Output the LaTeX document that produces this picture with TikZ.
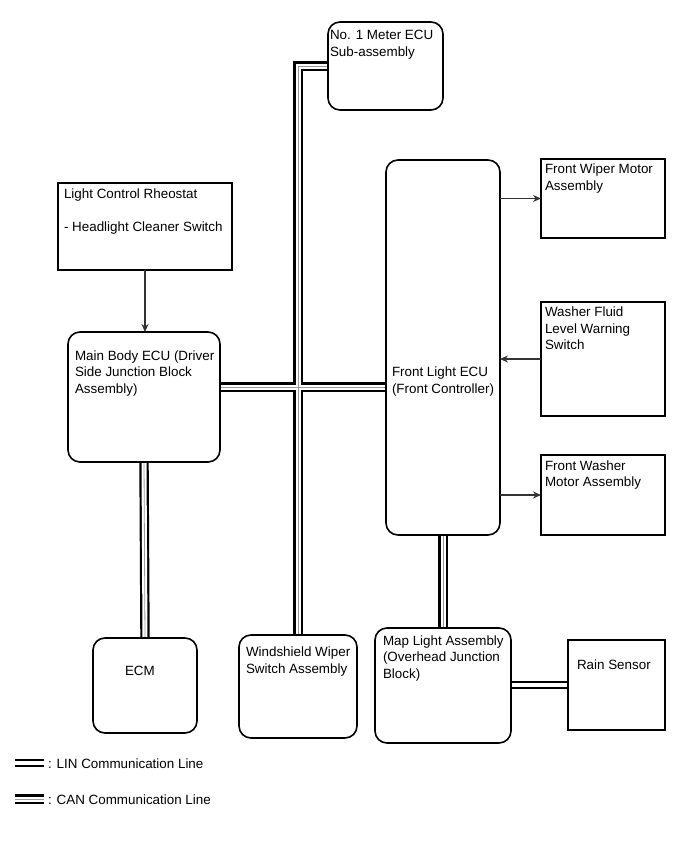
\documentclass[tikz,border=0pt]{standalone}
\usepackage{fontspec}
\setmainfont{Liberation Sans}
\usepackage{tikz}
\usetikzlibrary{arrows.meta, backgrounds}

\begin{document}
\begin{tikzpicture}[x=1pt, y=-1pt,
    every node/.style={inner sep=0pt, outer sep=0pt, font=\fontsize{13.4}{16.5}\selectfont},
    caja/.style={draw, line width=1.6pt, anchor=north west},
    cajar/.style={caja, rounded corners=12pt},
    texto/.style={anchor=north west, align=left, yshift=11pt,
        execute at begin node={\rule{0pt}{11pt}}},
    flecha/.style={draw=black!80, line width=1.1pt, -{Stealth[length=8pt, width=7pt]}},
    canline/.style={line width=2.2pt, double=white, double distance=5pt},
    cancore/.style={draw=black!40, line width=0.8pt},
    linline/.style={line width=2pt, double=white, double distance=3.5pt}]

    \useasboundingbox (0,0) rectangle (690,854);

    % Cajas (esquina superior izquierda)
    \node[cajar, minimum width=115pt, minimum height=88pt] (meter) at (328,22) {};
    \node[caja, minimum width=174pt, minimum height=87pt] (rheo) at (58,183) {};
    \node[cajar, minimum width=152pt, minimum height=130pt] (mbody) at (68,332) {};
    \node[cajar, minimum width=114pt, minimum height=375pt] (flecu) at (386,160) {};
    \node[caja, minimum width=124pt, minimum height=79pt] (fwiper) at (541,159) {};
    \node[caja, minimum width=124pt, minimum height=114pt] (wfluid) at (541,302) {};
    \node[caja, minimum width=124pt, minimum height=80pt] (fwasher) at (541,455) {};
    \node[cajar, minimum width=104pt, minimum height=95pt] (ecm) at (93,638) {};
    \node[cajar, minimum width=118pt, minimum height=103pt] (wswitch) at (239,635) {};
    \node[cajar, minimum width=136pt, minimum height=115pt] (maplight) at (375,628) {};
    \node[caja, minimum width=97pt, minimum height=90pt] (rain) at (568,640) {};

    % Textos (linea base de la primera fila)
    \node[texto] (meterT) at (330,41.5) {No. 1 Meter ECU\\Sub-assembly};
    \node[texto] (rheoT) at (64,200) {Light Control Rheostat\\[16.5pt]- Headlight Cleaner Switch};
    \node[texto] (mbodyT) at (75,361.5) {Main Body ECU (Driver\\Side Junction Block\\Assembly)};
    \node[texto] (flecuT) at (392,378) {Front Light ECU\\(Front Controller)};
    \node[texto] (fwiperT) at (545,175) {Front Wiper Motor\\Assembly};
    \node[texto] (wfluidT) at (545,318) {Washer Fluid\\Level Warning\\Switch};
    \node[texto] (fwasherT) at (545,471.5) {Front Washer\\Motor Assembly};
    \node[texto] (ecmT) at (125,675) {ECM};
    \node[texto] (wswitchT) at (246,658) {Windshield Wiper\\Switch Assembly};
    \node[texto] (maplightT) at (383,646.5) {Map Light Assembly\\(Overhead Junction\\Block)};
    \node[texto] (rainT) at (577,669.5) {Rain Sensor};

    % Flechas
    \draw[flecha] (rheo.south) -- (rheo.south |- mbody.north);
    \draw[flecha] (flecu.east |- fwiper.west) -- (fwiper.west);
    \draw[flecha] (wfluid.west) -- (wfluid.west -| flecu.east);
    \draw[flecha] (flecu.east |- fwasher.west) -- (fwasher.west);

    % Lineas de comunicacion
    \coordinate (busy) at (0,387);
    \begin{scope}[on background layer]
        \draw[canline] (mbody.east |- busy) -- (flecu.west |- busy)
            (meter.west) -| (wswitch.north);
        \draw[cancore] (mbody.east |- busy) -- (flecu.west |- busy)
            (meter.west) -| (wswitch.north);
        \draw[canline] (mbody.south) -- (ecm.north);
        \draw[cancore] (mbody.south) -- (ecm.north);
        \draw[canline] (flecu.south) -- (maplight.north);
        \draw[cancore] (flecu.south) -- (maplight.north);
        \draw[linline] (maplight.east |- rain.west) -- (rain.west);
    \end{scope}

    % Leyenda
    \coordinate (linA) at (15,763);
    \coordinate (linB) at (44,763);
    \draw[linline] (linA) -- (linB);
    \node[texto] (linT) at (48,768) {: LIN Communication Line};
    \coordinate (canA) at (15,799);
    \coordinate (canB) at (44,799);
    \draw[canline] (canA) -- (canB);
    \draw[cancore] (canA) -- (canB);
    \node[texto] (canT) at (48,804) {: CAN Communication Line};

\end{tikzpicture}
\end{document}
